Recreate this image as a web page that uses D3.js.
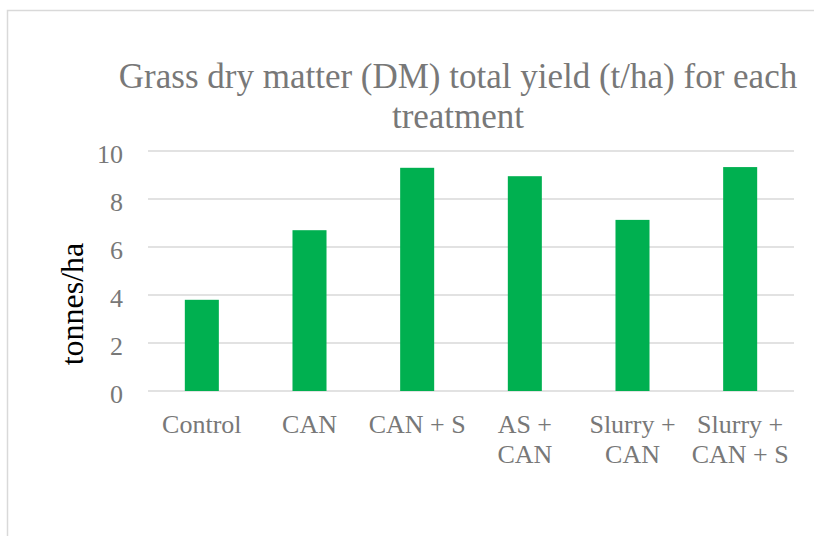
<!DOCTYPE html>
<html>
<head>
<meta charset="utf-8">
<script src="https://cdn.jsdelivr.net/npm/d3@7"></script>
<style>
  body { margin: 0; background: #fff; }
  svg { display: block; }
</style>
</head>
<body>
<div id="chart"></div>
<script>
/// Chart data
var categories = ["Control", "CAN", "CAN + S", "AS + CAN", "Slurry + CAN", "Slurry + CAN + S"]
var labelLines = [["Control"], ["CAN"], ["CAN + S"], ["AS +", "CAN"], ["Slurry +", "CAN"], ["Slurry +", "CAN + S"]]
var yields = [3.8, 6.7, 9.3, 8.95, 7.13, 9.33]
var yTicks = [0, 2, 4, 6, 8, 10]
var titleLines = ["Grass dry matter (DM) total yield (t/ha) for each", "treatment"]

var W = 814, H = 536
var plot = {left: 148, right: 794, top: 151, bottom: 391}
var grey = "#787878"
var font = "'Liberation Serif', 'Times New Roman', serif"

var svg = d3.select("#chart").append("svg")
    .attr("width", W)
    .attr("height", H)

/// Chart frame (only left and top edges fall inside the picture)
svg.append("rect")
    .attr("x", 7.5).attr("y", 10.5)
    .attr("width", W + 20).attr("height", H + 20)
    .attr("fill", "none")
    .attr("stroke", "#d9d9d9")
    .attr("stroke-width", 1.5)

var x = d3.scaleBand()
    .domain(categories)
    .range([plot.left, plot.right])
    .paddingInner(0.684)
    .paddingOuter(0.342)

var y = d3.scaleLinear()
    .domain([0, 10])
    .range([plot.bottom, plot.top])

/// Gridlines
svg.append("g")
    .selectAll("line")
    .data(yTicks)
    .enter().append("line")
    .attr("x1", plot.left).attr("x2", plot.right)
    .attr("y1", d => y(d)).attr("y2", d => y(d))
    .attr("stroke", "#d9d9d9")
    .attr("stroke-width", 1.5)

/// Bars
svg.append("g")
    .selectAll("rect")
    .data(yields)
    .enter().append("rect")
    .attr("x", (d, i) => x(categories[i]))
    .attr("y", d => y(d))
    .attr("width", x.bandwidth())
    .attr("height", d => y(0) - y(d))
    .attr("fill", "#00b050")

/// Y axis labels
var yAxis = svg.append("g")
    .attr("transform", "translate(" + plot.left + ",3)")
    .call(d3.axisLeft(y).tickValues(yTicks).tickSize(0).tickPadding(25))
yAxis.select(".domain").remove()
yAxis.selectAll("text")
    .attr("font-family", font)
    .attr("font-size", 26)
    .attr("fill", grey)

/// X axis labels, wrapped over lines
var xAxis = svg.append("g")
    .attr("transform", "translate(0," + plot.bottom + ")")
    .call(d3.axisBottom(x).tickSize(0).tickFormat(""))
xAxis.select(".domain").remove()
xAxis.selectAll(".tick").each(function(d, i) {
    var t = d3.select(this).append("text")
        .attr("text-anchor", "middle")
        .attr("font-family", font)
        .attr("font-size", 26)
        .attr("fill", grey)
    labelLines[i].forEach(function(line, k) {
        t.append("tspan")
            .attr("x", 0)
            .attr("y", 42 + k * 30)
            .text(line)
    })
})

/// Y axis title
svg.append("text")
    .attr("transform", "translate(83,304) rotate(-90)")
    .attr("text-anchor", "middle")
    .attr("font-family", font)
    .attr("font-size", 32)
    .attr("fill", "#000")
    .text("tonnes/ha")

/// Chart title
svg.append("g")
    .selectAll("text")
    .data(titleLines)
    .enter().append("text")
    .attr("x", 458)
    .attr("y", (d, i) => 88 + i * 40)
    .attr("text-anchor", "middle")
    .attr("font-family", font)
    .attr("font-size", 35)
    .attr("fill", grey)
    .text(d => d)
</script>
</body>
</html>
